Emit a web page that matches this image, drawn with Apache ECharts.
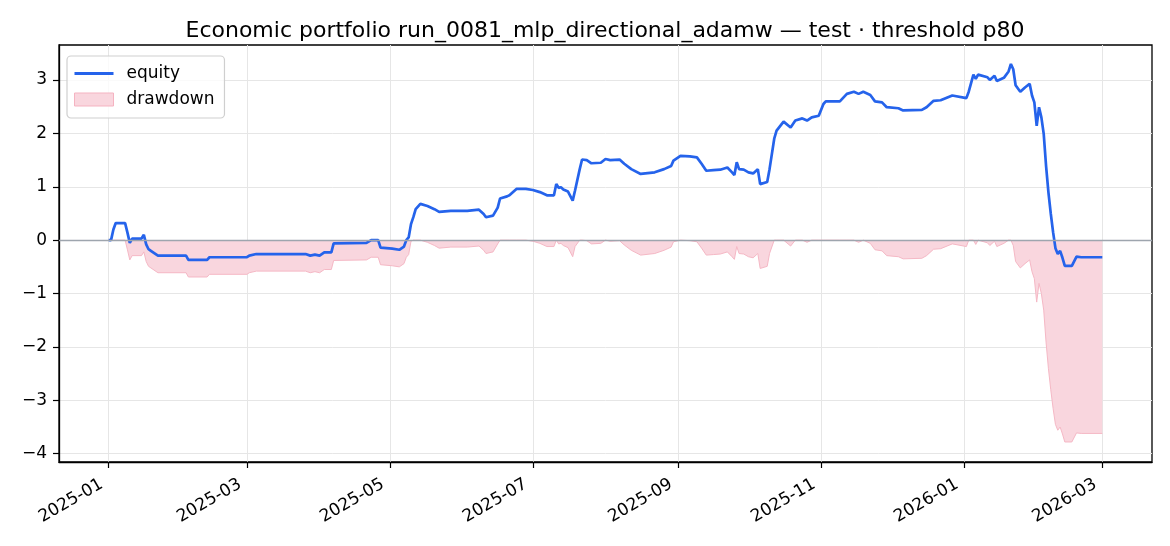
<!DOCTYPE html>
<html>
<head>
<meta charset="utf-8">
<script src="https://cdn.jsdelivr.net/npm/echarts@6/dist/echarts.min.js"></script>
<style>
html,body{margin:0;padding:0;background:#fff;}
#chart{width:1170px;height:546px;}
</style>
</head>
<body>
<div id="chart"></div>
<script>
const titleText = 'Economic portfolio run_0081_mlp_directional_adamw \u2014 test \u00b7 threshold p80';

const dates = [
'2025-01-01','2025-01-02','2025-01-03','2025-01-04','2025-01-08','2025-01-09','2025-01-10','2025-01-11','2025-01-15','2025-01-16',
'2025-01-17','2025-01-18','2025-01-19','2025-01-22','2025-02-03','2025-02-04','2025-02-12','2025-02-13','2025-03-01','2025-03-02',
'2025-03-05','2025-03-26','2025-03-28','2025-03-30','2025-04-01','2025-04-03','2025-04-06','2025-04-07','2025-04-21','2025-04-23',
'2025-04-26','2025-04-27','2025-05-02','2025-05-05','2025-05-07','2025-05-08','2025-05-09','2025-05-10','2025-05-11','2025-05-12',
'2025-05-14','2025-05-17','2025-05-20','2025-05-22','2025-05-27','2025-06-03','2025-06-08','2025-06-10','2025-06-11','2025-06-14',
'2025-06-16','2025-06-17','2025-06-20','2025-06-21','2025-06-24','2025-06-28','2025-07-01','2025-07-04','2025-07-07','2025-07-10',
'2025-07-11','2025-07-12','2025-07-13','2025-07-14','2025-07-16','2025-07-18','2025-07-19','2025-07-21','2025-07-22','2025-07-24',
'2025-07-26','2025-07-30','2025-08-01','2025-08-03','2025-08-07','2025-08-09','2025-08-12','2025-08-16','2025-08-22','2025-08-26',
'2025-08-29','2025-08-30','2025-09-02','2025-09-06','2025-09-09','2025-09-11','2025-09-13','2025-09-16','2025-09-19','2025-09-22',
'2025-09-24','2025-09-25','2025-09-26','2025-09-27','2025-09-29','2025-10-01','2025-10-03','2025-10-05','2025-10-06','2025-10-09',
'2025-10-10','2025-10-12','2025-10-13','2025-10-16','2025-10-19','2025-10-21','2025-10-24','2025-10-26','2025-10-28','2025-10-31',
'2025-11-02','2025-11-03','2025-11-09','2025-11-12','2025-11-15','2025-11-17','2025-11-19','2025-11-22','2025-11-24','2025-11-27',
'2025-11-29','2025-12-04','2025-12-06','2025-12-14','2025-12-16','2025-12-19','2025-12-22','2025-12-27','2026-01-02','2026-01-03',
'2026-01-05','2026-01-06','2026-01-07','2026-01-11','2026-01-12','2026-01-14','2026-01-15','2026-01-18','2026-01-20','2026-01-21',
'2026-01-22','2026-01-23','2026-01-25','2026-01-27','2026-01-29','2026-01-30','2026-01-31','2026-02-01','2026-02-02','2026-02-03',
'2026-02-04','2026-02-05','2026-02-06','2026-02-07','2026-02-08','2026-02-09','2026-02-10','2026-02-11','2026-02-12','2026-02-13',
'2026-02-16','2026-02-18','2026-02-20','2026-03-01'
];

const equity = [
0.00,0.00,0.20,0.32,0.32,0.14,-0.05,0.03,0.03,0.10,
-0.08,-0.17,-0.20,-0.29,-0.29,-0.37,-0.37,-0.32,-0.32,-0.29,
-0.26,-0.26,-0.29,-0.27,-0.29,-0.23,-0.23,-0.06,-0.05,0.00,
0.00,-0.14,-0.16,-0.18,-0.12,0.00,0.05,0.30,0.43,0.58,
0.68,0.64,0.58,0.53,0.55,0.55,0.57,0.49,0.43,0.46,
0.61,0.78,0.82,0.84,0.96,0.96,0.94,0.90,0.84,0.84,
1.05,0.98,0.99,0.95,0.91,0.74,0.93,1.33,1.51,1.50,
1.44,1.45,1.52,1.50,1.51,1.43,1.33,1.24,1.27,1.33,
1.39,1.49,1.58,1.57,1.55,1.43,1.30,1.31,1.32,1.36,
1.27,1.22,1.46,1.33,1.32,1.27,1.25,1.33,1.05,1.09,
1.33,1.90,2.05,2.22,2.11,2.24,2.28,2.24,2.30,2.33,
2.55,2.60,2.60,2.74,2.78,2.74,2.78,2.72,2.60,2.58,
2.49,2.47,2.43,2.44,2.49,2.61,2.62,2.71,2.66,2.78,
3.10,3.02,3.10,3.05,3.00,3.08,2.98,3.04,3.16,3.30,
3.20,2.90,2.78,2.86,2.93,2.71,2.58,2.14,2.49,2.30,
1.99,1.39,0.90,0.50,0.15,-0.15,-0.26,-0.20,-0.33,-0.48,
-0.48,-0.31,-0.32,-0.32
];

const drawdown = [
0.00,0.00,0.00,0.00,0.00,-0.18,-0.37,-0.29,-0.29,-0.22,
-0.40,-0.49,-0.52,-0.61,-0.61,-0.69,-0.69,-0.64,-0.64,-0.61,
-0.58,-0.58,-0.61,-0.59,-0.61,-0.55,-0.55,-0.38,-0.37,-0.32,
-0.32,-0.46,-0.48,-0.50,-0.44,-0.32,-0.27,-0.02,0.00,0.00,
0.00,-0.04,-0.10,-0.15,-0.13,-0.13,-0.11,-0.19,-0.25,-0.22,
-0.07,0.00,0.00,0.00,0.00,0.00,-0.02,-0.06,-0.12,-0.12,
0.00,-0.07,-0.06,-0.10,-0.14,-0.31,-0.12,0.00,0.00,-0.01,
-0.07,-0.06,0.00,-0.02,-0.01,-0.09,-0.19,-0.28,-0.25,-0.19,
-0.13,-0.03,0.00,-0.01,-0.03,-0.15,-0.28,-0.27,-0.26,-0.22,
-0.31,-0.36,-0.12,-0.25,-0.26,-0.31,-0.33,-0.25,-0.53,-0.49,
-0.25,0.00,0.00,0.00,-0.11,0.00,0.00,-0.04,0.00,0.00,
0.00,0.00,0.00,0.00,0.00,-0.04,0.00,-0.06,-0.18,-0.20,
-0.29,-0.31,-0.35,-0.34,-0.29,-0.17,-0.16,-0.07,-0.12,0.00,
0.00,-0.08,0.00,-0.05,-0.10,-0.02,-0.12,-0.06,0.00,0.00,
-0.10,-0.40,-0.52,-0.44,-0.37,-0.59,-0.72,-1.16,-0.81,-1.00,
-1.31,-1.91,-2.40,-2.80,-3.15,-3.45,-3.56,-3.50,-3.63,-3.78,
-3.78,-3.61,-3.62,-3.62
];

const xTickLabels = ['2025-01','2025-03','2025-05','2025-07','2025-09','2025-11','2026-01','2026-03'];
const yTicks = [-4,-3,-2,-1,0,1,2,3];

function toTs(s){
  const p = s.split('-');
  return new Date(+p[0], +p[1]-1, p.length>2 ? +p[2] : 1).getTime();
}
const xTickValues = xTickLabels.map(toTs);
const xMin = new Date(2024, 11, 10, 19).getTime();
const xMax = new Date(2026, 2, 22, 5).getTime();

const FONT = 'DejaVu Sans';
const chart = echarts.init(document.getElementById('chart'), null, {renderer:'canvas'});

chart.setOption({
  animation:false,
  backgroundColor:'#ffffff',
  textStyle:{fontFamily:FONT},
  title:{
    text:titleText,
    left:600, textAlign:'center', top:15,
    textStyle:{fontFamily:FONT,fontSize:22,fontWeight:'normal',color:'#000'}
  },
  grid:{left:59,right:18,top:45,bottom:84,show:true,borderColor:'#000',borderWidth:1.3,backgroundColor:'transparent'},
  legend:{
    orient:'vertical', left:67, top:56,
    padding:[9,10,10,6],
    itemGap:9, itemWidth:39, itemHeight:13,
    backgroundColor:'rgba(255,255,255,0.8)', borderColor:'#cfcfcf', borderWidth:1.2, borderRadius:4,
    textStyle:{fontFamily:FONT,fontSize:17,color:'#000',padding:[0,0,0,8]},
    data:[
      {name:'equity', itemStyle:{opacity:0}, lineStyle:{color:'#2563eb',width:3}},
      {name:'drawdown', icon:'rect', itemStyle:{color:'#f9d6de',borderColor:'#f5b3c1',borderWidth:1}}
    ]
  },
  xAxis:{
    type:'value', min:xMin, max:xMax,
    axisLine:{show:true,onZero:false,lineStyle:{color:'#000',width:1.3}},
    axisTick:{show:true,length:6,lineStyle:{color:'#000',width:1.2},customValues:xTickValues},
    axisLabel:{
      customValues:xTickValues, rotate:30, margin:17, padding:[0,8,0,0],
      fontFamily:FONT, fontSize:17, color:'#000',
      formatter:function(v){ const i = xTickValues.indexOf(v); return i>=0 ? xTickLabels[i] : ''; }
    },
    splitLine:{show:true,lineStyle:{color:'#e6e6e6',width:1}}
  },
  yAxis:{
    type:'value', min:-4.155, max:3.655,
    axisLine:{show:true,onZero:false,lineStyle:{color:'#000',width:1.3}},
    axisTick:{show:true,length:6,lineStyle:{color:'#000',width:1.2},customValues:yTicks},
    axisLabel:{
      customValues:yTicks, margin:12,
      fontFamily:FONT, fontSize:17, color:'#000',
      formatter:function(v){ return v<0 ? '\u2212'+Math.abs(v) : String(v); }
    },
    splitLine:{show:true,lineStyle:{color:'#e6e6e6',width:1}}
  },
  series:[
    {
      name:'drawdown', type:'line', z:2,
      data:dates.map((d,i)=>[toTs(d), drawdown[i]]),
      symbol:'none', showSymbol:false,
      lineStyle:{color:'#f5b8c5',width:1},
      itemStyle:{color:'#f9d6de'},
      areaStyle:{color:'#f9d6de',opacity:1,origin:0},
      markLine:{
        silent:true, symbol:'none', animation:false,
        label:{show:false},
        lineStyle:{color:'#9ea5ae',width:1.3,type:'solid'},
        data:[{yAxis:0}]
      }
    },
    {
      name:'equity', type:'line', z:3,
      data:dates.map((d,i)=>[toTs(d), equity[i]]),
      symbol:'none', showSymbol:false,
      lineStyle:{color:'#2563eb',width:2.7},
      itemStyle:{color:'#2563eb'}
    }
  ]
});
</script>
</body>
</html>
